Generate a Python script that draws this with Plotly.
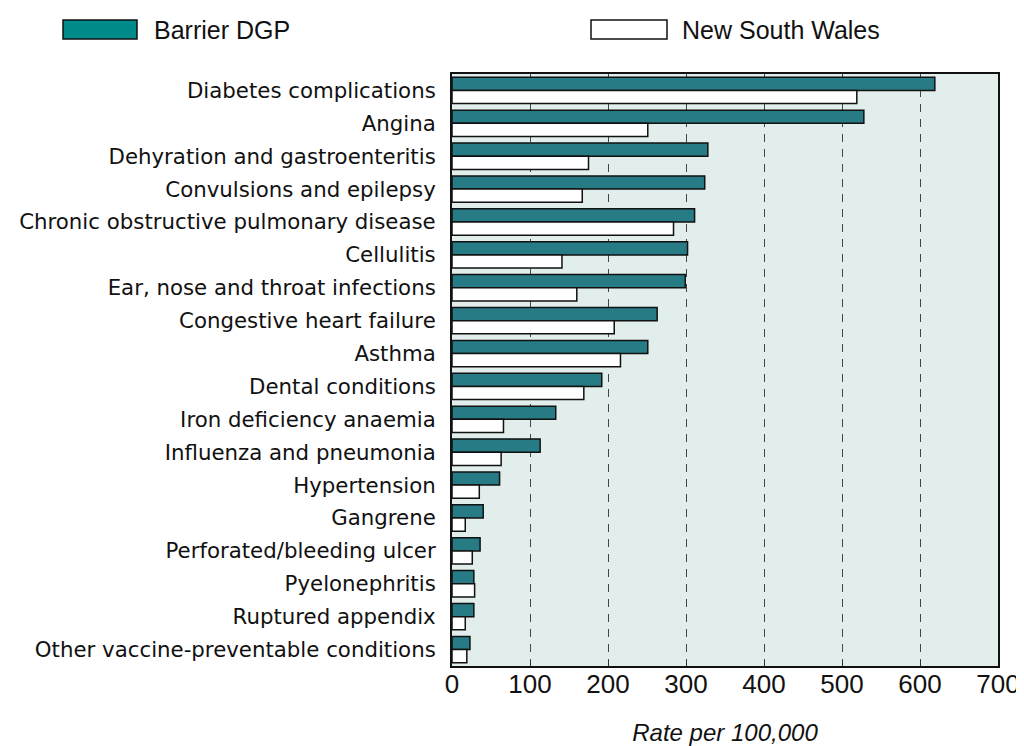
import plotly.graph_objects as go

categories = [
    "Diabetes complications", "Angina", "Dehyration and gastroenteritis",
    "Convulsions and epilepsy", "Chronic obstructive pulmonary disease",
    "Cellulitis", "Ear, nose and throat infections", "Congestive heart failure",
    "Asthma", "Dental conditions", "Iron deficiency anaemia",
    "Influenza and pneumonia", "Hypertension", "Gangrene",
    "Perforated/bleeding ulcer", "Pyelonephritis", "Ruptured appendix",
    "Other vaccine-preventable conditions",
]
barrier = [619, 528, 328, 324, 311, 302, 299, 263, 251, 192, 133, 113, 61, 40, 36, 28, 28, 23]
nsw = [519, 251, 175, 167, 284, 141, 160, 208, 216, 169, 66, 63, 35, 17, 26, 29, 17, 19]
x_ticks = [0, 100, 200, 300, 400, 500, 600, 700]

LABEL_FONT = "DejaVu Sans"
NUM_FONT = "Liberation Sans"
TEAL = "#277B84"

fig = go.Figure()
fig.add_trace(go.Bar(y=categories, x=barrier, orientation="h", name="Barrier DGP",
                     marker=dict(color=TEAL, line=dict(color="#111111", width=1.5))))
fig.add_trace(go.Bar(y=categories, x=nsw, orientation="h", name="New South Wales",
                     marker=dict(color="#FFFFFF", line=dict(color="#111111", width=1.5))))

# page body has an 8px default margin, so the figure is 8px smaller
fig.update_layout(
    width=1016, height=738,
    margin=dict(l=444, r=26, t=66, b=80),
    paper_bgcolor="white", plot_bgcolor="#E2EEEC",
    barmode="group", bargap=0.2, bargroupgap=0,
    showlegend=False,
    font=dict(family=LABEL_FONT, color="#111111"),
)
fig.update_xaxes(range=[0, 700], tickvals=x_ticks, ticktext=[str(v) for v in x_ticks],
                 showgrid=True, gridcolor="#444444", griddash="8px,7px", gridwidth=1,
                 showline=True, linecolor="#111111", linewidth=2, mirror=True,
                 ticks="inside", ticklen=6, tickcolor="#333333",
                 tickfont=dict(size=26, family=NUM_FONT), zeroline=False, automargin=False,
                 ticklabelstandoff=-6,
                 title=dict(text="<i>Rate per 100,000</i>", font=dict(size=24, family=NUM_FONT), standoff=27))
fig.update_yaxes(autorange="reversed", showline=True, linecolor="#111111", linewidth=2, mirror=True,
                 ticks="", tickfont=dict(size=21.3, family=LABEL_FONT), ticklabelstandoff=10,
                 showgrid=False, automargin=False)

# legend drawn manually
LEG_FONT = dict(size=25, family=NUM_FONT, color="#111111")
fig.add_shape(type="rect", xref="paper", yref="paper",
              x0=(63-452)/546, x1=(137-452)/546, y0=(666-39)/592, y1=(666-20)/592,
              fillcolor="#008B8B", line=dict(color="#111111", width=1.5))
fig.add_shape(type="rect", xref="paper", yref="paper",
              x0=(591-452)/546, x1=(667-452)/546, y0=(666-39)/592, y1=(666-20)/592,
              fillcolor="#FFFFFF", line=dict(color="#111111", width=1.5))
fig.add_annotation(xref="paper", yref="paper", x=(152-452)/546, y=(666-30)/592,
                   text="Barrier DGP", showarrow=False, xanchor="left", yanchor="middle",
                   font=LEG_FONT)
fig.add_annotation(xref="paper", yref="paper", x=(680-452)/546, y=(666-30)/592,
                   text="New South Wales", showarrow=False, xanchor="left", yanchor="middle",
                   font=LEG_FONT)

fig.write_html("out.html")
